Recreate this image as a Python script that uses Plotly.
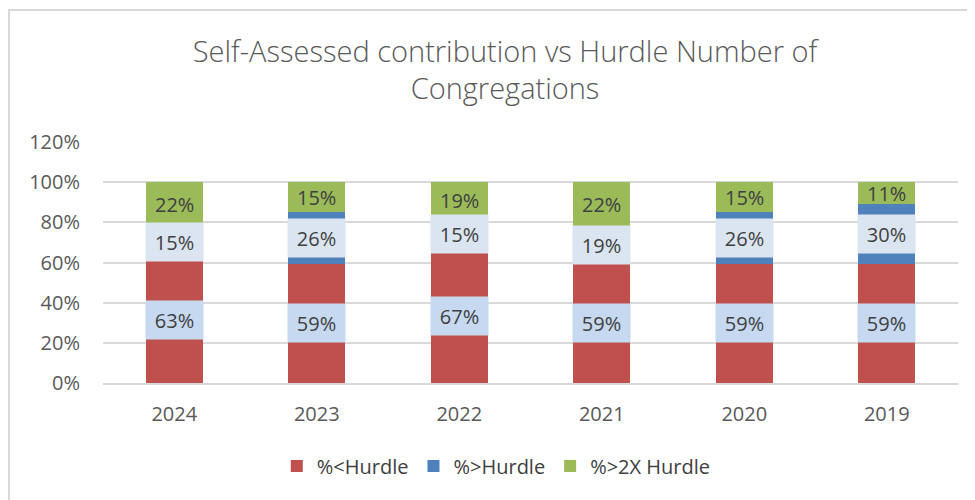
import plotly.graph_objects as go

years = ["2024", "2023", "2022", "2021", "2020", "2019"]
below_hurdle = [63.0, 59.3, 66.7, 59.3, 59.3, 59.3]
above_hurdle = [14.8, 25.9, 14.8, 18.5, 25.9, 29.6]
above_2x_hurdle = [22.2, 14.8, 18.5, 22.2, 14.8, 11.1]
series_names = ["%<Hurdle", "%>Hurdle", "%>2X Hurdle"]
y_ticks = [0, 20, 40, 60, 80, 100, 120]
y_tick_labels = ["0%", "20%", "40%", "60%", "80%", "100%", "120%"]

colors = ["#c0504d", "#4f81bd", "#9bbb59"]
label_bg = ["#c6d9f0", "#dbe5f1", None]
text_color = "#404040"
axis_text = "#595959"
font_family = "Open Sans, Liberation Sans, sans-serif"

series = [below_hurdle, above_hurdle, above_2x_hurdle]
positions = list(range(len(years)))

fig = go.Figure()
for name, vals, col in zip(series_names, series, colors):
    fig.add_trace(go.Bar(
        x=positions, y=vals, name=name,
        marker=dict(color=col, line=dict(width=0)),
        width=0.4,
        hoverinfo="skip",
    ))

annotations = []
for i in positions:
    base = 0.0
    for s, vals in enumerate(series):
        v = vals[i]
        ann = dict(
            x=i, y=base + v / 2, xref="x", yref="y",
            text=f"{int(v + 0.5)}%", showarrow=False,
            font=dict(family=font_family, size=20, color=text_color),
        )
        if label_bg[s]:
            ann.update(bgcolor=label_bg[s], width=57, height=38, borderpad=0)
        annotations.append(ann)
        base += v

fig.update_layout(
    width=967, height=492,
    barmode="stack",
    plot_bgcolor="white", paper_bgcolor="white",
    margin=dict(l=95, r=17, t=134, b=117),
    font=dict(family=font_family, color=axis_text, size=20),
    title=dict(
        text="Self-Assessed contribution vs Hurdle Number of<br>Congregations",
        x=0.514, xref="container", xanchor="center",
        y=0.891, yref="container", yanchor="middle",
        font=dict(family=font_family, size=29, color=axis_text, weight=300),
    ),
    xaxis=dict(
        range=[-0.5, len(years) - 0.5], tickvals=positions, ticktext=years,
        showgrid=False, showline=True, linecolor="#d9d9d9", linewidth=1.5,
        ticks="", ticklabelstandoff=12, zeroline=False,
        tickfont=dict(size=20, color=axis_text),
    ),
    yaxis=dict(
        range=[0, 120], tickvals=y_ticks, ticktext=y_tick_labels,
        showgrid=True, gridcolor="#d9d9d9", gridwidth=1.5,
        zeroline=False, showline=False, ticks="", ticklabelstandoff=22,
        tickfont=dict(size=20, color=axis_text),
    ),
    legend=dict(
        orientation="h", x=0.460, xanchor="center", y=-0.344, yanchor="middle",
        font=dict(size=20, color=text_color), traceorder="normal",
    ),
    annotations=annotations,
    shapes=[
        dict(type="line", xref="paper", yref="paper",
             x0=-95 / 855, x1=1.05, y0=1 + 132 / 241, y1=1 + 132 / 241,
             line=dict(color="#d9d9d9", width=2)),
        dict(type="line", xref="paper", yref="paper",
             x0=-94 / 855, x1=-94 / 855, y0=1 + 133 / 241, y1=-0.6,
             line=dict(color="#d9d9d9", width=2)),
    ],
)

fig.write_html("out.html")
